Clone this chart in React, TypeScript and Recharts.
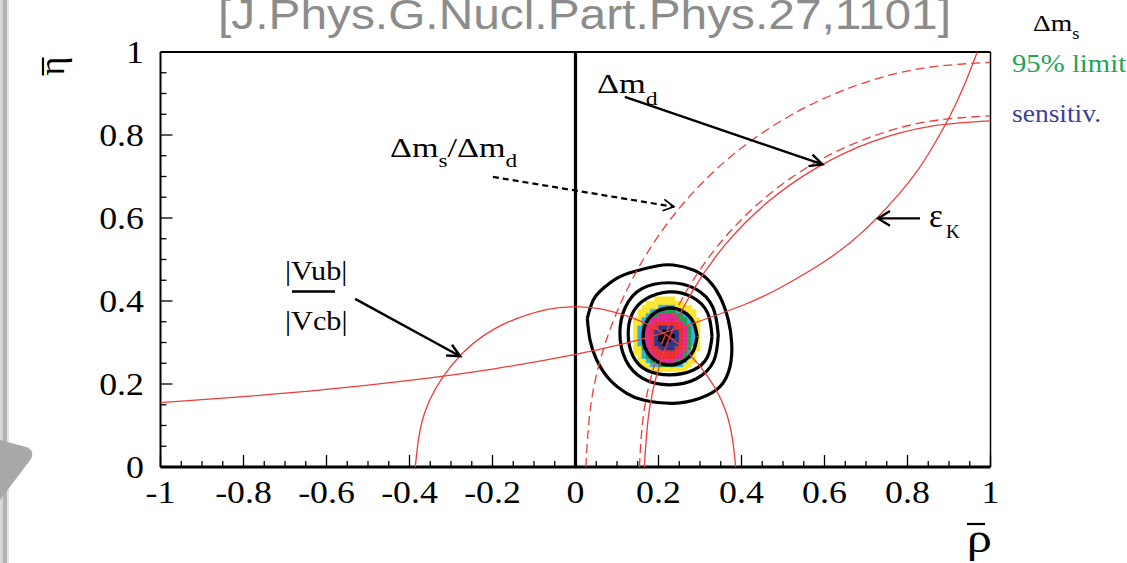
import React from 'react';
import { ScatterChart, Scatter, XAxis, YAxis, ReferenceLine, ReferenceArea } from 'recharts';

const W = 1127;
const H = 563;

// ---- axis ticks ----
const X_TICKS = [-1, -0.95, -0.9, -0.85, -0.8, -0.75, -0.7, -0.65, -0.6, -0.55, -0.5, -0.45, -0.4, -0.35, -0.3, -0.25, -0.2, -0.15, -0.1, -0.05, 0, 0.05, 0.1, 0.15, 0.2, 0.25, 0.3, 0.35, 0.4, 0.45, 0.5, 0.55, 0.6, 0.65, 0.7, 0.75, 0.8, 0.85, 0.9, 0.95, 1];
const Y_TICKS = [0, 0.05, 0.1, 0.15, 0.2, 0.25, 0.3, 0.35, 0.4, 0.45, 0.5, 0.55, 0.6, 0.65, 0.7, 0.75, 0.8, 0.85, 0.9, 0.95, 1];
const X_LABELS = [-1, -0.8, -0.6, -0.4, -0.2, 0, 0.2, 0.4, 0.6, 0.8, 1];
const Y_LABELS = [0, 0.2, 0.4, 0.6, 0.8, 1];

// ---- constraint curves (rho, eta) ----
const VUB_VCB: [number, number][] = [[-0.386, 0], [-0.363, 0.132], [-0.296, 0.248], [-0.193, 0.334], [-0.067, 0.38], [0, 0.386], [0.067, 0.38], [0.193, 0.334], [0.296, 0.248], [0.363, 0.132], [0.386, 0]];
const DMD_SOLID: [number, number][] = [[0.166, 0], [0.179, 0.145], [0.216, 0.285], [0.278, 0.417], [0.361, 0.536], [0.464, 0.639], [0.583, 0.722], [0.715, 0.784], [0.855, 0.821], [1, 0.834]];
const DMD_DASHED: [number, number][] = [[0.154, 0], [0.167, 0.147], [0.205, 0.289], [0.267, 0.423], [0.352, 0.544], [0.456, 0.648], [0.577, 0.733], [0.711, 0.795], [0.853, 0.833], [1, 0.846]];
const DMS_LIMIT: [number, number][] = [[0.025, 0], [0.04, 0.169], [0.084, 0.333], [0.156, 0.4875], [0.253, 0.627], [0.373, 0.747], [0.5125, 0.844], [0.667, 0.916], [0.831, 0.96], [1, 0.975]];
const EPS_K: [number, number][] = [[-1, 0.155], [-0.8, 0.1696], [-0.6, 0.187], [-0.4, 0.2088], [-0.2, 0.2361], [0, 0.2716], [0.2, 0.3198], [0.4, 0.3886], [0.5, 0.4355], [0.6, 0.4952], [0.7, 0.574], [0.8, 0.6824], [0.85, 0.7537], [0.9, 0.8415], [0.94, 0.928], [0.968, 1.0]];

// ---- probability contours ----
const CONTOUR_1: [number, number][] = [[0.293, 0.3145], [0.284, 0.349], [0.26, 0.374], [0.228, 0.383], [0.195, 0.374], [0.171, 0.349], [0.163, 0.3145], [0.171, 0.28], [0.195, 0.255], [0.228, 0.246], [0.26, 0.255], [0.284, 0.28], [0.293, 0.3145]];
const CONTOUR_2: [number, number][] = [[0.329, 0.315], [0.318, 0.372], [0.28, 0.41], [0.225, 0.422], [0.17, 0.405], [0.137, 0.37], [0.127, 0.32], [0.138, 0.268], [0.172, 0.233], [0.228, 0.222], [0.283, 0.233], [0.318, 0.265], [0.329, 0.315]];
const CONTOUR_3: [number, number][] = [[0.344, 0.318], [0.331, 0.385], [0.288, 0.43], [0.225, 0.444], [0.16, 0.43], [0.12, 0.385], [0.107, 0.322], [0.121, 0.258], [0.163, 0.213], [0.226, 0.198], [0.29, 0.212], [0.333, 0.255], [0.344, 0.318]];
const CONTOUR_4: [number, number][] = [[0.0284, 0.3583], [0.0429, 0.4024], [0.067, 0.4306], [0.0993, 0.4547], [0.1393, 0.4706], [0.1957, 0.4843], [0.2357, 0.4867], [0.2839, 0.4747], [0.32, 0.4506], [0.3482, 0.4104], [0.3682, 0.3542], [0.3764, 0.2981], [0.3723, 0.2417], [0.3482, 0.1935], [0.3, 0.1655], [0.2357, 0.1535], [0.1634, 0.1614], [0.1234, 0.1776], [0.0831, 0.2096], [0.0511, 0.2578], [0.0349, 0.306], [0.0284, 0.3583]];

// ---- 2D probability histogram (rows from top, bins of 0.01) ----
const HIST_RHO0 = 0.14;
const HIST_ETA0 = 0.41;
const HIST_BIN = 0.01;
const HIST_ROWS = [
  '.....YYYYY......',
  '...YYYYYYYYY....',
  '..YYYYCCCCYYYY..',
  '.YYYCCGGGGCCYYY.',
  '.YYCGGMMMMGGCYY.',
  'YYCGMMMMMMMGGCYY',
  'YYCGMRRRRRRMGCCY',
  'YCGMRRBBBBRRMGCY',
  'YCGMRBBKKBBRMGCY',
  'YCGMRBKKKKBRMGCY',
  'YCGMRBKKKBBRMGCY',
  'YCGMRBBKBBBRMGCY',
  'YYGMRRBBBBRRMGYY',
  'YYCGMRRRRRRMGCY.',
  '.YCGMMRRRRMMGCY.',
  '.YYCGGMMMMGGCYY.',
  '..YYCCGGGGCCYY..',
  '...YYYYYYYYYY...',
];
const HIST_COLORS: Record<string, string> = {
  Y: '#fbe62c', C: '#2fb0ea', G: '#1f9e54', M: '#e52590', R: '#ec2c2f', B: '#2e3487', K: '#000000',
};

// ---- annotation arrows: [start, tip] ----
const ARROW_DMD: [number, number][] = [[0.119, 0.892], [0.595, 0.729]];
const ARROW_DMS: [number, number][] = [[-0.199, 0.699], [0.237, 0.627]];
const ARROW_VUB: [number, number][] = [[-0.531, 0.405], [-0.278, 0.267]];
const ARROW_EPS: [number, number][] = [[0.83, 0.599], [0.729, 0.599]];

const RED = '#ee3b3b';
const SERIF = '"Liberation Serif", "DejaVu Serif", serif';

const toPts = (arr: [number, number][]) => arr.map(([x, y]) => ({ x, y }));
const arrowPts = (a: [number, number][]) => [
  { x: a[0][0], y: a[0][1] },
  { x: a[1][0], y: a[1][1], tip: true, dx: a[1][0] - a[0][0], dy: a[1][1] - a[0][1] },
];

const histCells: { x1: number; x2: number; y1: number; y2: number; color: string }[] = [];
HIST_ROWS.forEach((row, r) => {
  row.split('').forEach((ch, c) => {
    if (ch === '.') return;
    histCells.push({
      x1: HIST_RHO0 + c * HIST_BIN,
      x2: HIST_RHO0 + (c + 1) * HIST_BIN,
      y1: HIST_ETA0 - (r + 1) * HIST_BIN,
      y2: HIST_ETA0 - r * HIST_BIN,
      color: HIST_COLORS[ch],
    });
  });
});

const isMajor = (v: number) => Math.abs(v * 5 - Math.round(v * 5)) < 1e-6;
const fmt = (v: number) => String(Number(v.toFixed(2)));

const XTick = (props: any) => {
  const { x, y, payload } = props;
  const v = payload.value;
  const major = isMajor(v);
  return (
    <g>
      <line x1={x} y1={y} x2={x} y2={y - (major ? 12 : 6)} stroke="#000" strokeWidth={1.3} />
      {major && X_LABELS.some((l) => Math.abs(l - v) < 1e-6) && (
        <g transform={`translate(${x},${y + 36}) scale(1.12,1)`}>
          <text x={0} y={0} textAnchor="middle" fontFamily={SERIF} fontSize={32} fill="#000">{fmt(v)}</text>
        </g>
      )}
    </g>
  );
};

const YTick = (props: any) => {
  const { x, y, payload } = props;
  const v = payload.value;
  const major = isMajor(v);
  return (
    <g>
      <line x1={x} y1={y} x2={x + (major ? 12 : 6)} y2={y} stroke="#000" strokeWidth={1.3} />
      {major && Y_LABELS.some((l) => Math.abs(l - v) < 1e-6) && (
        <g transform={`translate(${x - 16.5},${y + 11}) scale(1.12,1)`}>
          <text x={0} y={0} textAnchor="end" fontFamily={SERIF} fontSize={32} fill="#000">{fmt(v)}</text>
        </g>
      )}
    </g>
  );
};

const NoShape = () => <g />;

const makeHead = (len: number, spread: number, width: number) => (props: any) => {
  const { cx, cy } = props;
  const p = props.payload ?? props;
  if (!p || !p.tip || cx == null || cy == null) return <g />;
  const ang = Math.atan2(-p.dy, p.dx);
  const a1 = ang + Math.PI - spread;
  const a2 = ang + Math.PI + spread;
  const d = `M${cx + len * Math.cos(a1)},${cy + len * Math.sin(a1)} L${cx},${cy} L${cx + len * Math.cos(a2)},${cy + len * Math.sin(a2)}`;
  return <path d={d} stroke="#000" strokeWidth={width} fill="none" />;
};

export default function App() {
  return (
    <div style={{ position: 'absolute', left: 0, top: 0, width: W, height: H, background: '#fff', overflow: 'hidden' }}>
      <ScatterChart width={W} height={H} margin={{ top: 52, right: 136.5, bottom: 0, left: 0 }}>
        <XAxis
          type="number"
          dataKey="x"
          domain={[-1, 1]}
          ticks={X_TICKS}
          interval={0}
          allowDataOverflow
          tickSize={0}
          tickMargin={0}
          tickLine={false}
          axisLine={{ stroke: '#000', strokeWidth: 3 }}
          height={96}
          tick={(p: any) => <XTick {...p} />}
        />
        <YAxis
          type="number"
          dataKey="y"
          domain={[0, 1]}
          ticks={Y_TICKS}
          interval={0}
          allowDataOverflow
          tickSize={0}
          tickMargin={0}
          tickLine={false}
          axisLine={{ stroke: '#000', strokeWidth: 2 }}
          width={160.5}
          tick={(p: any) => <YTick {...p} />}
        />
        {histCells.map((c, i) => (
          <ReferenceArea key={`h${i}`} x1={c.x1} x2={c.x2} y1={c.y1} y2={c.y2} fill={c.color} fillOpacity={1} stroke={c.color} strokeWidth={0.5} />
        ))}
        <ReferenceLine y={1} stroke="#000" strokeWidth={2} />
        <ReferenceLine x={1} stroke="#000" strokeWidth={1.5} />
        <ReferenceLine x={0} stroke="#000" strokeWidth={3.2} />

        <Scatter data={toPts(CONTOUR_4)} line={{ stroke: '#000', strokeWidth: 3.2 }} lineJointType="natural" shape={NoShape} isAnimationActive={false} />
        <Scatter data={toPts(CONTOUR_3)} line={{ stroke: '#000', strokeWidth: 3.2 }} lineJointType="natural" shape={NoShape} isAnimationActive={false} />
        <Scatter data={toPts(CONTOUR_2)} line={{ stroke: '#000', strokeWidth: 3.2 }} lineJointType="natural" shape={NoShape} isAnimationActive={false} />
        <Scatter data={toPts(CONTOUR_1)} line={{ stroke: '#000', strokeWidth: 3.4 }} lineJointType="natural" shape={NoShape} isAnimationActive={false} />

        <Scatter data={toPts(VUB_VCB)} line={{ stroke: RED, strokeWidth: 1.3 }} lineJointType="natural" shape={NoShape} isAnimationActive={false} />
        <Scatter data={toPts(DMD_SOLID)} line={{ stroke: RED, strokeWidth: 1.3 }} lineJointType="natural" shape={NoShape} isAnimationActive={false} />
        <Scatter data={toPts(DMD_DASHED)} line={{ stroke: RED, strokeWidth: 1.3, strokeDasharray: '9 5' }} lineJointType="natural" shape={NoShape} isAnimationActive={false} />
        <Scatter data={toPts(DMS_LIMIT)} line={{ stroke: RED, strokeWidth: 1.3, strokeDasharray: '9 5' }} lineJointType="natural" shape={NoShape} isAnimationActive={false} />
        <Scatter data={toPts(EPS_K)} line={{ stroke: RED, strokeWidth: 1.3 }} lineJointType="natural" shape={NoShape} isAnimationActive={false} />

        <Scatter data={arrowPts(ARROW_DMD)} line={{ stroke: '#000', strokeWidth: 2.4 }} shape={makeHead(14, 0.45, 2.4)} isAnimationActive={false} />
        <Scatter data={arrowPts(ARROW_DMS)} line={{ stroke: '#000', strokeWidth: 2.2, strokeDasharray: '6 4' }} shape={makeHead(12, 0.5, 1.8)} isAnimationActive={false} />
        <Scatter data={arrowPts(ARROW_VUB)} line={{ stroke: '#000', strokeWidth: 2.4 }} shape={makeHead(14, 0.45, 2.4)} isAnimationActive={false} />
        <Scatter data={arrowPts(ARROW_EPS)} line={{ stroke: '#000', strokeWidth: 2.4 }} shape={makeHead(14, 0.55, 2.4)} isAnimationActive={false} />
      </ScatterChart>

      <svg width={W} height={H} style={{ position: 'absolute', left: 0, top: 0, pointerEvents: 'none' }}>
        {/* slide chrome */}
        <rect x={0} y={0} width={2.5} height={H} fill="#d9d9d9" />
        <rect x={2.5} y={0} width={4.5} height={H} fill="#b3b3b3" />
        <rect x={7} y={0} width={2} height={H} fill="#e4e4e4" />
        <path d="M0,440 L26,447 Q35,450 31,459 L0,500 Z" fill="#a6a9a6" />

        {/* title */}
        <text x={218} y={29} fontFamily='"Liberation Sans", Arial, sans-serif' fontSize={42} fill="#8c8c8c" textLength={733} lengthAdjust="spacingAndGlyphs">[J.Phys.G.Nucl.Part.Phys.27,1101]</text>

        {/* legend on the right */}
        <g transform="translate(1033,31) scale(1.15,1)">
          <text x={0} y={0} fontFamily={SERIF} fontSize={24} fill="#000">Δm<tspan dy={8} fontSize={16}>s</tspan></text>
        </g>
        <g transform="translate(1012,72) scale(1.15,1)">
          <text x={0} y={0} fontFamily={SERIF} fontSize={25} fill="#1ea456">95% limit</text>
        </g>
        <g transform="translate(1012,122) scale(1.1,1)">
          <text x={0} y={0} fontFamily={SERIF} fontSize={25} fill="#3b3f9a">sensitiv.</text>
        </g>

        {/* curve labels */}
        <g transform="translate(597,93) scale(1.25,1)">
          <text x={0} y={0} fontFamily={SERIF} fontSize={27.5} fill="#000">Δm<tspan dy={11.5} fontSize={19}>d</tspan></text>
        </g>
        <g transform="translate(390,157) scale(1.22,1)">
          <text x={0} y={0} fontFamily={SERIF} fontSize={28} fill="#000">Δm<tspan dy={10} fontSize={19}>s</tspan><tspan dy={-10} fontSize={28}>/Δm</tspan><tspan dy={10} fontSize={19}>d</tspan></text>
        </g>
        <g transform="translate(285,280) scale(1.08,1)">
          <text x={0} y={0} fontFamily={SERIF} fontSize={28} fill="#000">|Vub|</text>
        </g>
        <line x1={292} y1={291.5} x2={335} y2={291.5} stroke="#000" strokeWidth={2.5} />
        <g transform="translate(285,330) scale(1.08,1)">
          <text x={0} y={0} fontFamily={SERIF} fontSize={28} fill="#000">|Vcb|</text>
        </g>
        <text x={929} y={227} fontFamily={SERIF} fontSize={33} fill="#000">ε</text>
        <text x={946} y={238} fontFamily={SERIF} fontSize={19} fill="#000">K</text>

        {/* axis titles */}
        <g transform="translate(64,66) rotate(-90)">
          <text x={0} y={0} textAnchor="middle" fontFamily={SERIF} fontSize={36} fill="#000">η</text>
        </g>
        <line x1={43} y1={57.5} x2={43} y2={75.5} stroke="#000" strokeWidth={2.2} />
        <g transform="translate(992,552) scale(1.2,1)">
          <text x={0} y={0} textAnchor="end" fontFamily={SERIF} fontSize={42} fill="#000">ρ</text>
        </g>
        <line x1={967} y1={524} x2={985} y2={524} stroke="#000" strokeWidth={2.2} />
      </svg>
    </div>
  );
}
